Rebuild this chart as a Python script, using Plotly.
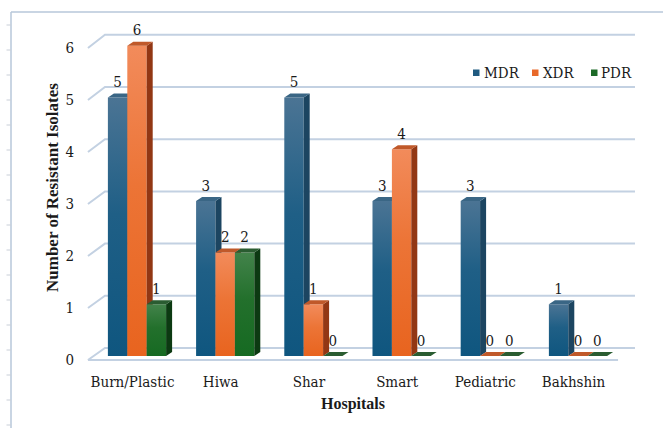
import plotly.graph_objects as go

# ---- data -------------------------------------------------------------
hospitals = ["Burn/Plastic", "Hiwa", "Shar", "Smart", "Pediatric", "Bakhshin"]
mdr = [5, 3, 5, 3, 3, 1]
xdr = [6, 2, 1, 4, 0, 0]
pdr = [1, 2, 0, 0, 0, 0]
y_ticks = [0, 1, 2, 3, 4, 5, 6]

series_names = ["MDR", "XDR", "PDR"]
series_values = [mdr, xdr, pdr]

# ---- styling ------------------------------------------------------------
FONT = "DejaVu Serif Condensed"
BOLD_FONT = "Liberation Serif"
TEXT_COLOR = "#1a1a1a"
GRID_COLOR = "#c3d1e2"
FRAME_COLOR = "#b7c7da"

styles = {
    "MDR": dict(front=[[0, "#0f567f"], [0.55, "#1f5f86"], [1, "#4b7494"]],
                side="#1c4561", top="#3a6685", swatch="#1f5a80"),
    "XDR": dict(front=[[0, "#e8641f"], [0.55, "#ec7436"], [1, "#f28b5b"]],
                side="#923714", top="#c0592a", swatch="#e8692a"),
    "PDR": dict(front=[[0, "#166a22"], [0.55, "#23702c"], [1, "#43834b"]],
                side="#0c3a12", top="#2a5c31", swatch="#1d6a27"),
}

# 3-D look: bar geometry in axis units
BAR_W = 0.22        # width of one bar front
GROUP_SHIFT = 0.051 # bar group sits a little right of the category label
DEPTH_X = 0.068     # horizontal depth of side face
DEPTH_Y = 0.077     # vertical depth of top face

# walls / floor of the 3-D box
FRONT_LEFT_X = -0.505
BACK_LEFT_X = -0.312
BACK_RIGHT_X = 5.697
FRONT_RIGHT_X = 5.505


def front_level(v):
    return v * 1.006 - 0.077


def back_level(v):
    return v * 1.0097 + 0.155


# figure geometry (pixels)
W_PX, H_PX = 663, 428
L, R, T, B = 80, 645, 15, 368
X_RANGE = [(L - 132.5) / 88.2, (R - 132.5) / 88.2]
Y_RANGE = [(356 - B) / 51.7, (356 - T) / 51.7]


def px(xp):
    return (xp - L) / (R - L)


def py(yp):
    return (B - yp) / (B - T)


fig = go.Figure()

# ---- gridlines on back wall with perspective on the left wall -----------
for v in y_ticks:
    gx = [FRONT_LEFT_X, BACK_LEFT_X, BACK_RIGHT_X]
    gy = [front_level(v), back_level(v), back_level(v)]
    fig.add_trace(go.Scatter(x=gx, y=gy, mode="lines",
                             line=dict(color=GRID_COLOR, width=2),
                             hoverinfo="skip", showlegend=False))
# front edge of the floor
fig.add_trace(go.Scatter(x=[FRONT_LEFT_X, FRONT_RIGHT_X],
                         y=[front_level(0), front_level(0)], mode="lines",
                         line=dict(color=GRID_COLOR, width=2),
                         hoverinfo="skip", showlegend=False))

# ---- bars ----------------------------------------------------------------
label_x, label_y, label_t = [], [], []
for s_idx, (name, vals) in enumerate(zip(series_names, series_values)):
    st = styles[name]
    side_x, side_y, top_x, top_y = [], [], [], []
    for c_idx, v in enumerate(vals):
        x0 = c_idx + GROUP_SHIFT + (s_idx - 1.5) * BAR_W
        x1 = x0 + BAR_W
        # front face with vertical shading
        if v > 0:
            fig.add_trace(go.Scatter(
                x=[x0, x1, x1, x0, x0], y=[0, 0, v, v, 0],
                mode="lines", line=dict(width=0), fill="toself",
                fillcolor=st["swatch"],
                fillgradient=dict(type="vertical", colorscale=st["front"]),
                hoverinfo="skip", showlegend=False))
            side_x += [x1, x1 + DEPTH_X, x1 + DEPTH_X, x1, x1, None]
            side_y += [0, DEPTH_Y, v + DEPTH_Y, v, 0, None]
        top_x += [x0, x1, x1 + DEPTH_X, x0 + DEPTH_X, x0, None]
        top_y += [v, v, v + DEPTH_Y, v + DEPTH_Y, v, None]
        label_x.append((x0 + x1) / 2)
        label_y.append(v)
        label_t.append(str(v))
    if side_x:
        fig.add_trace(go.Scatter(x=side_x, y=side_y, mode="lines",
                                 line=dict(width=0), fill="toself",
                                 fillcolor=st["side"], hoverinfo="skip",
                                 showlegend=False))
    fig.add_trace(go.Scatter(x=top_x, y=top_y, mode="lines",
                             line=dict(width=0), fill="toself",
                             fillcolor=st["top"], hoverinfo="skip",
                             showlegend=False))

# ---- value labels ---------------------------------------------------------
fig.add_trace(go.Scatter(
    x=label_x, y=[v + DEPTH_Y + 0.05 for v in label_y], mode="text",
    text=label_t, textposition="top center",
    textfont=dict(family=FONT, size=15, color=TEXT_COLOR),
    hoverinfo="skip", showlegend=False))

# ---- layout ------------------------------------------------------------------
fig.update_layout(
    width=W_PX, height=H_PX,
    margin=dict(l=L, r=W_PX - R, t=T, b=H_PX - B),
    paper_bgcolor="white", plot_bgcolor="white",
    font=dict(family=FONT, size=15, color=TEXT_COLOR),
    showlegend=False,
    xaxis=dict(range=X_RANGE, tickvals=list(range(len(hospitals))),
               ticktext=hospitals, showgrid=False, zeroline=False,
               showline=False, ticks="", ticklabelstandoff=3,
               tickfont=dict(family=FONT, size=15, color=TEXT_COLOR),
               fixedrange=True),
    yaxis=dict(range=Y_RANGE, tickvals=[front_level(v) for v in y_ticks],
               ticktext=[str(v) for v in y_ticks], showgrid=False,
               zeroline=False, showline=False, ticks="",
               ticklabelstandoff=5,
               tickfont=dict(family=FONT, size=15, color=TEXT_COLOR),
               fixedrange=True),
)

annotations = [
    dict(text="<b>Hospitals</b>", x=px(353), y=py(404), xref="paper",
         yref="paper", showarrow=False, xanchor="center", yanchor="middle",
         font=dict(family=BOLD_FONT, size=16, color=TEXT_COLOR)),
    dict(text="<b>Number of Resistant Isolates</b>", x=px(52), y=py(188),
         xref="paper", yref="paper", showarrow=False, textangle=-90,
         xanchor="center", yanchor="middle",
         font=dict(family=BOLD_FONT, size=17, color=TEXT_COLOR)),
]

shapes = [
    # page frame
    dict(type="line", xref="paper", yref="paper", x0=px(11), x1=px(11),
         y0=py(12), y1=py(440), line=dict(color=FRAME_COLOR, width=1.5)),
    dict(type="line", xref="paper", yref="paper", x0=px(11), x1=px(680),
         y0=py(12), y1=py(12), line=dict(color=FRAME_COLOR, width=1.5)),
]
# ruler ticks along the left edge of the frame
for k in range(1, 18):
    shapes.append(dict(type="line", xref="paper", yref="paper",
                       x0=px(6.5), x1=px(11), y0=py(25 * k), y1=py(25 * k),
                       line=dict(color="#c9cfd8", width=1)))

# legend: coloured squares with series names
legend_pos = [(473, 482), (532, 541), (591, 599)]
for name, (sq_x, tx) in zip(series_names, legend_pos):
    shapes.append(dict(type="rect", xref="paper", yref="paper",
                       x0=px(sq_x), x1=px(sq_x + 6.5), y0=py(69.5),
                       y1=py(76), fillcolor=styles[name]["swatch"],
                       line=dict(width=0)))
    annotations.append(dict(text=name, x=px(tx), y=py(72.5), xref="paper",
                            yref="paper", showarrow=False, xanchor="left",
                            yanchor="middle",
                            font=dict(family=FONT, size=15,
                                      color=TEXT_COLOR)))

fig.update_layout(annotations=annotations, shapes=shapes)

fig.write_html("out.html")
